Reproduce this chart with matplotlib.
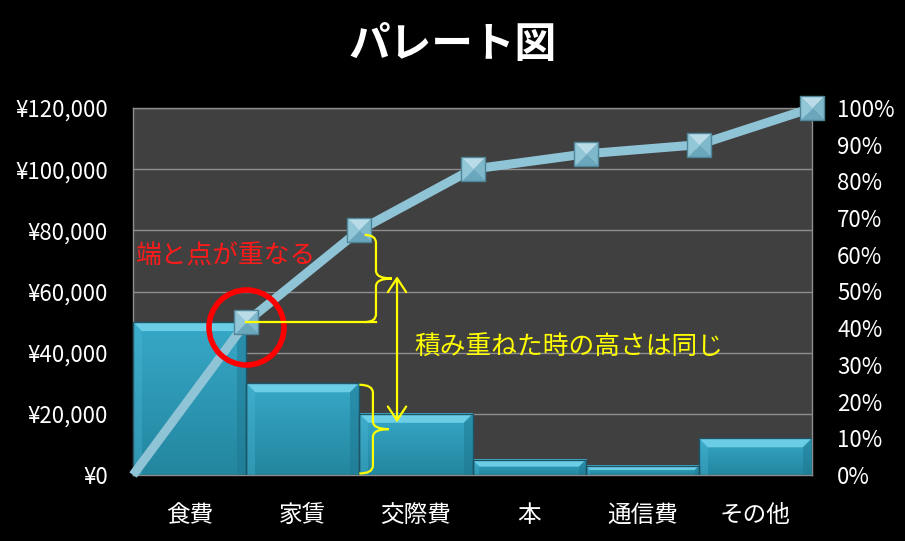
import matplotlib
matplotlib.use("Agg")
import matplotlib.pyplot as plt
import numpy as np
from matplotlib.path import Path
from matplotlib.patches import Polygon, PathPatch, FancyArrowPatch
from matplotlib.colors import LinearSegmentedColormap

plt.rcParams['font.family'] = ['Noto Sans CJK JP', 'DejaVu Sans']

# data
categories = ['食費', '家賃', '交際費', '本', '通信費', 'その他']
amounts = [50000, 30000, 20000, 5000, 3000, 12000]
yen_ticks = [0, 20000, 40000, 60000, 80000, 100000, 120000]
pct_ticks = [0, 10, 20, 30, 40, 50, 60, 70, 80, 90, 100]

title = 'パレート図'
note_red = '端と点が重なる'
note_yellow = '積み重ねた時の高さは同じ'

cum = np.cumsum(amounts)
total = cum[-1]
cum_pct = cum / total * 100

W, H = 905, 541
fig = plt.figure(figsize=(W / 100, H / 100), dpi=100, facecolor='black')
ax = fig.add_axes([133 / W, 1 - 475 / H, (812 - 133) / W, (475 - 108) / H])
ax.set_facecolor('#404040')

x = np.arange(len(categories))
ax.set_xlim(-0.5, len(categories) - 0.5)
ax.set_ylim(0, yen_ticks[-1])

# size of one pixel in data units (for the bevel on the bars)
ax_h_px = (475 - 108)
ax_w_px = (812 - 133)
yen_px = yen_ticks[-1] / ax_h_px
cat_px = len(categories) / ax_w_px

# bars: gradient face + light top bevel
grad = LinearSegmentedColormap.from_list('bar', ['#23869f', '#37a8c8'])
bars = ax.bar(x, amounts, width=1.0, facecolor='none', edgecolor='#1b5567',
              linewidth=1, zorder=4)
for b in bars:
    x0, w, h = b.get_x(), b.get_width(), b.get_height()
    ax.imshow(np.linspace(0, 1, 64).reshape(-1, 1), cmap=grad, origin='lower',
              extent=[x0, x0 + w, 0, h], aspect='auto', zorder=2,
              interpolation='bilinear')
    hb = min(9 * yen_px, h * 0.45)
    dx = hb / yen_px * cat_px
    ax.add_patch(Polygon([(x0, h), (x0 + w, h), (x0 + w - dx, h - hb), (x0 + dx, h - hb)],
                         closed=True, facecolor='#6ccde6', edgecolor='none', zorder=3))
    ax.add_patch(Polygon([(x0 + w, h), (x0 + w, 0), (x0 + w - dx, 0), (x0 + w - dx, h - hb)],
                         closed=True, facecolor='#1f7891', edgecolor='none', alpha=0.5, zorder=3))
    ax.add_patch(Polygon([(x0, h), (x0, 0), (x0 + dx, 0), (x0 + dx, h - hb)],
                         closed=True, facecolor='#4bb8d6', edgecolor='none', alpha=0.35, zorder=3))
ax.set_xlim(-0.5, len(categories) - 0.5)
ax.set_ylim(0, yen_ticks[-1])

ax.set_yticks(yen_ticks)
ax.set_yticklabels([f'¥{v:,}' for v in yen_ticks])
ax.set_xticks(x)
ax.set_xticklabels(categories)
ax.tick_params(axis='y', colors='white', labelsize=16, length=0, pad=18)
ax.tick_params(axis='x', colors='white', labelsize=17, length=0, pad=21)
ax.yaxis.grid(True, color='#8e8e8e', linewidth=1)
ax.set_axisbelow(True)
for s in ax.spines.values():
    s.set_color('#8e8e8e')
    s.set_linewidth(1)

# cumulative percentage on the right axis
ax2 = ax.twinx()
ax2.set_ylim(0, 100)
ax2.set_yticks(pct_ticks)
ax2.set_yticklabels([f'{v}%' for v in pct_ticks])
ax2.tick_params(axis='y', colors='white', labelsize=16, length=0, pad=18)
for s in ax2.spines.values():
    s.set_visible(False)

xs = np.concatenate([[-0.5], x + 0.5])
ys = np.concatenate([[0], cum_pct])
ax2.plot(xs, ys, color='#8fc3d6', linewidth=6.5, solid_capstyle='butt',
         clip_on=False, zorder=3)

# square markers with a pyramid look
faces = [
    ([(-1, 1), (1, 1), (0, 0), (-1, 1)], '#b9dce8'),
    ([(1, 1), (1, -1), (0, 0), (1, 1)], '#7fb8cb'),
    ([(1, -1), (-1, -1), (0, 0), (1, -1)], '#6aa7bc'),
    ([(-1, -1), (-1, 1), (0, 0), (-1, -1)], '#92c7d8'),
]
for verts, c in faces:
    ax2.plot(x + 0.5, cum_pct, ls='none', marker=Path(verts), ms=17,
             mfc=c, mec=c, mew=0.3, clip_on=False, zorder=4)
ax2.plot(x + 0.5, cum_pct, ls='none', marker='s', ms=17, mfc='none',
         mec='#4e8598', mew=1, clip_on=False, zorder=5)

# annotations
yellow = '#ffff00'
ax2.plot(0.5, (amounts[0] - 1600) / total * 100, marker='o', ms=54, mfc='none',
         mec='#ff0000', mew=4, clip_on=False, zorder=6)
ax2.text(-0.48, 71500, note_red, transform=ax.transData, color='#ff1a1a',
         fontsize=18.5, va='center', ha='left', zorder=7)


def brace(xv, y0, y1, w_hook=0.1, w_tip=0.14, r=2600):
    ym = (y0 + y1) / 2
    verts = [(xv - w_hook, y1), (xv, y1), (xv, y1 - r),
             (xv, ym + r), (xv, ym), (xv + w_tip, ym),
             (xv, ym), (xv, ym - r),
             (xv, y0 + r), (xv, y0), (xv - w_hook, y0)]
    codes = [Path.MOVETO, Path.CURVE3, Path.CURVE3,
             Path.LINETO, Path.CURVE3, Path.CURVE3,
             Path.CURVE3, Path.CURVE3,
             Path.LINETO, Path.CURVE3, Path.CURVE3]
    ax2.add_patch(PathPatch(Path(verts, codes), transform=ax.transData,
                            facecolor='none', edgecolor=yellow, lw=1.6, zorder=7))


xb1 = 1.647
ax2.plot([0.5, xb1], [cum[0], cum[0]], color=yellow, lw=1.6,
         transform=ax.transData, zorder=7)
brace(xb1, cum[0], cum[1] - 1500)
brace(1.62, 500, amounts[1] - 500, w_hook=0.12)

ax2.add_patch(FancyArrowPatch((1.833, (cum[0] + cum[1]) / 2), (1.833, amounts[1] / 2 + 2200),
                              transform=ax.transData,
                              arrowstyle='<->,head_length=0.5,head_width=0.33',
                              mutation_scale=20, color=yellow, lw=1.6,
                              shrinkA=0, shrinkB=0, zorder=7))
ax2.text(1.99, 41500, note_yellow, transform=ax.transData, color=yellow,
         fontsize=18.5, va='center', ha='left', zorder=7)

fig.text(0.5, 1 - 45 / H, title, color='white', fontsize=30, fontweight='bold',
         ha='center', va='center')

fig.savefig('out.png', dpi=100, facecolor='black')
